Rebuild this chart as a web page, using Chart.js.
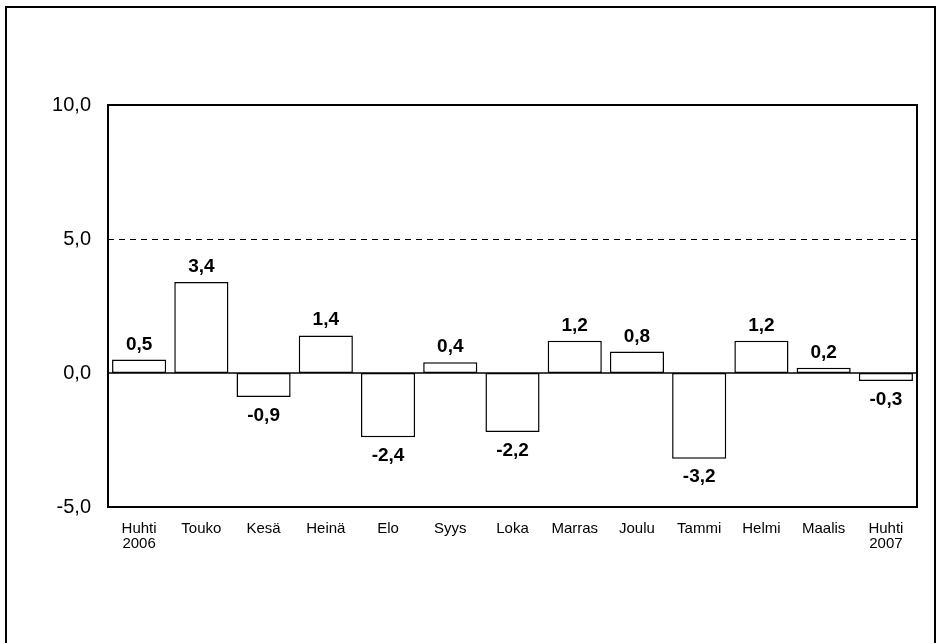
<!DOCTYPE html>
<html>
<head>
<meta charset="utf-8">
<script src="https://cdn.jsdelivr.net/npm/chart.js@4/dist/chart.umd.min.js"></script>
<style>
  html, body { margin: 0; padding: 0; background: #fff; }
  #wrap { width: 937px; height: 643px; position: relative; }
</style>
</head>
<body>
<div id="wrap"><canvas id="muutosChart"></canvas></div>
<script>
// Kuukausimuutos (%), huhti 2006 - huhti 2007
const kuukaudet = [['Huhti', '2006'], 'Touko', 'Kesä', 'Heinä', 'Elo', 'Syys', 'Loka', 'Marras', 'Joulu', 'Tammi', 'Helmi', 'Maalis', ['Huhti', '2007']];
const muutokset = [0.5, 3.4, -0.9, 1.4, -2.4, 0.4, -2.2, 1.2, 0.8, -3.2, 1.2, 0.2, -0.3];
const yTicks = [-5, 0, 5, 10];
const katkoviiva = 5;

const fmt = v => v.toFixed(1).replace('.', ',');

// Kehykset, nollaviiva, katkoviiva ja arvot
const piirto = {
    id: 'piirto',
    beforeDraw(chart) {
        const ctx = chart.ctx;
        ctx.save();
        ctx.strokeStyle = '#000';
        ctx.lineWidth = 2;
        ctx.strokeRect(6, 7, 929, 660);
        ctx.restore();
    },
    beforeDatasetsDraw(chart) {
        const ctx = chart.ctx;
        const a = chart.chartArea;
        const y = chart.scales.y;
        ctx.save();
        ctx.strokeStyle = '#000';
        ctx.lineWidth = 1;
        ctx.setLineDash([6, 5]);
        const y5 = Math.round(y.getPixelForValue(katkoviiva)) + 0.5;
        ctx.beginPath();
        ctx.moveTo(a.left, y5);
        ctx.lineTo(a.right, y5);
        ctx.stroke();
        ctx.restore();
    },
    afterDatasetsDraw(chart) {
        const ctx = chart.ctx;
        const a = chart.chartArea;
        const y = chart.scales.y;
        ctx.save();
        ctx.strokeStyle = '#000';
        ctx.lineWidth = 1.5;
        const y0 = y.getPixelForValue(0);
        ctx.beginPath();
        ctx.moveTo(a.left, y0);
        ctx.lineTo(a.right, y0);
        ctx.stroke();
        ctx.lineWidth = 2;
        ctx.strokeRect(a.left, a.top, a.right - a.left, a.bottom - a.top);

        ctx.fillStyle = '#000';
        ctx.font = 'bold 19px Arial, "Liberation Sans", sans-serif';
        ctx.textAlign = 'center';
        const meta = chart.getDatasetMeta(0);
        meta.data.forEach((bar, i) => {
            const v = muutokset[i];
            if (v >= 0) {
                ctx.textBaseline = 'alphabetic';
                ctx.fillText(fmt(v), bar.x, bar.y - 10);
            } else {
                ctx.textBaseline = 'top';
                ctx.fillText(fmt(v), bar.x, bar.y + 9);
            }
        });
        ctx.restore();
    }
};

const ctx = document.getElementById('muutosChart').getContext('2d');
new Chart(ctx, {
    type: 'bar',
    data: {
        labels: kuukaudet,
        datasets: [{
            data: muutokset,
            backgroundColor: '#ffffff',
            borderColor: '#000000',
            borderWidth: 1.5,
            borderSkipped: false,
            barPercentage: 0.87,
            categoryPercentage: 1.0
        }]
    },
    options: {
        responsive: true,
        maintainAspectRatio: false,
        animation: false,
        layout: {
            padding: { left: 10, right: 20, top: 105, bottom: 76 }
        },
        plugins: {
            legend: { display: false },
            tooltip: { enabled: false }
        },
        scales: {
            y: {
                min: -5,
                max: 10,
                afterFit: s => { s.width = 98; },
                afterBuildTicks: s => { s.ticks = yTicks.map(v => ({ value: v })); },
                grid: { display: false, drawTicks: false },
                border: { display: false },
                ticks: {
                    color: '#000',
                    padding: 17,
                    font: { family: 'Arial, "Liberation Sans", sans-serif', size: 20 },
                    callback: v => fmt(v)
                }
            },
            x: {
                afterFit: s => { s.height = 60; },
                grid: { display: false, drawTicks: false },
                border: { display: false },
                ticks: {
                    color: '#000',
                    padding: 14,
                    maxRotation: 0,
                    autoSkip: false,
                    font: { family: 'Arial, "Liberation Sans", sans-serif', size: 15, lineHeight: 1.0 }
                }
            }
        }
    },
    plugins: [piirto]
});
</script>
</body>
</html>
